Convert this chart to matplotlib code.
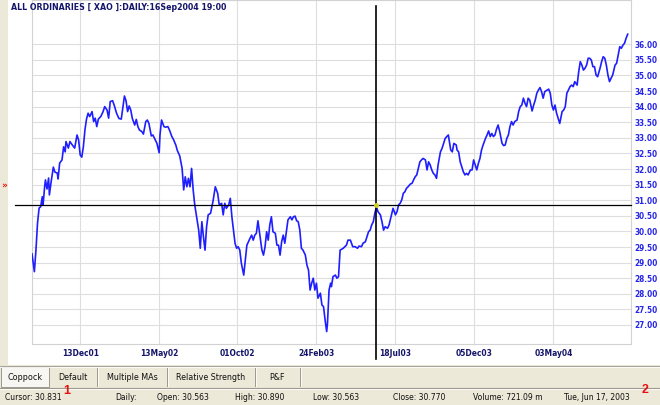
import matplotlib
matplotlib.use('Agg')
import matplotlib.pyplot as plt
from matplotlib import font_manager
from matplotlib.font_manager import FontProperties
from matplotlib.patches import Rectangle

# ---------------- data ----------------
sessions = [0,3,5,7,9,11,13,14,16,17,19,21,22,24,27,29,32,33,35,38,40,42,43,46,48,51,54,57,59,61,
            63,65,67,69,71,73,76,78,80,82,84,87,90,92,95,97,99,102,104,107,110,113,115,117,119,121,123,125,127,130,
            132,134,136,139,141,144,146,148,151,153,156,158,161,162,164,167,169,172,174,177,179,182,184,187,190,192,
            194,196,198,200,202,204,206,209,211,213,215,217,219,221,223,226,229,232,235,237,
            240,242,244,246,249,251,253,255,257,259,261,263,265,268,270,272,274,276,278,280,
            282,284,286,289,291,293,295,297,299,301,303,305,308,310,312,314,316,318,320,322,
            324,327,329,331,333,335,337,339,341,343,346,348,350,352,354,356,358,360,362,365,
            367,369,371,373,374,376,378,379,381,384,386,388,390,
            394,398,400,403,406,409,412,414,417,419,422,424,426,428,430,432,434,436,438,441,
            443,445,447,450,452,455,457,460,462,464,466,468,470,472,474,476,479,481,483,485,
            487,489,491,493,495,498,500,502,504,506,508,510,512,514,517,519,521,523,525,527,
            528,530,532,534,537,538,540,542,544,546,548,550,552,555,557,559,561,563,565,567,
            569,571,574,576,578,580,582,584,586,588,590,592,595,597,599,601,603,605,607,609,
            611,614,616,618,620,622,624,626,628,630,633,635,637,639,641,643,645,647,649,652,
            654,656,658,660,662,664,666,668,671,673,675,677,679,681,683,685,687,690,692,694,
            696,698,700,702,704,706,708,710,712,714,716,719,721,723,725,727,729,731,733,735,
            738,740,742,744,746,748,750,752,754]
closes = [29.28,28.71,29.40,30.27,30.75,30.79,31.11,30.85,31.43,31.65,
          31.36,31.71,31.17,31.55,32.06,31.90,31.87,31.68,32.19,32.29,
          32.71,32.55,32.88,32.67,32.88,32.77,32.67,33.09,32.93,32.45,
          32.38,32.71,33.25,33.60,33.79,33.68,33.84,33.52,33.63,33.36,
          33.60,33.68,33.84,34.00,33.89,33.63,34.16,34.19,34.05,33.79,
          33.62,33.60,33.96,34.34,34.19,33.84,34.02,33.89,33.62,33.41,
          33.59,33.36,33.25,33.20,33.12,33.52,33.57,33.46,33.06,33.09,
          32.93,32.83,32.52,33.09,33.57,33.36,33.34,33.36,33.25,33.04,
          32.95,32.77,32.59,32.42,32.02,31.33,
          31.75,31.43,31.70,31.43,32.02,31.33,30.85,30.37,30.04,29.46,
          30.31,29.83,29.40,30.15,30.53,30.58,30.95,31.43,31.22,30.85,
          30.90,30.53,30.90,30.74,30.85,31.06,30.47,30.04,29.62,29.46,
          29.51,29.40,28.98,28.60,29.08,29.56,29.67,29.78,29.88,29.72,
          29.88,29.94,30.34,29.78,29.40,29.24,29.51,29.99,29.72,30.21,
          30.47,29.99,29.94,29.56,29.56,29.24,29.67,29.88,29.62,29.99,
          30.37,30.47,30.37,30.47,30.49,30.34,30.31,30.04,29.46,29.40,
          29.24,28.92,28.76,28.12,28.34,28.50,28.12,28.34,27.86,28.02,
          27.64,27.59,27.16,26.79,27.05,28.12,28.34,28.23,28.55,28.60,
          28.50,28.55,29.40,
          29.46,29.56,29.72,29.72,29.51,29.51,29.46,29.53,29.51,29.62,
          29.67,29.83,29.99,30.04,30.21,30.31,30.58,30.79,30.63,30.53,
          30.31,30.04,30.15,30.10,30.21,30.53,30.74,30.53,30.63,30.85,
          30.90,31.01,31.22,31.27,31.38,31.43,31.52,31.54,31.65,31.75,
          31.81,32.02,32.23,32.29,32.34,32.29,31.97,32.23,32.13,31.97,
          31.86,31.81,31.70,32.13,32.55,32.66,32.82,32.98,33.04,33.09,
          32.93,32.61,32.55,32.82,32.77,32.61,32.55,32.23,32.07,31.91,
          31.81,31.86,31.81,31.97,31.97,32.29,32.13,31.97,32.18,32.34,
          32.61,32.77,32.98,33.09,33.22,33.04,33.14,33.04,33.09,33.28,
          33.41,33.20,32.82,32.75,32.77,32.98,33.09,33.36,33.52,33.41,
          33.52,33.57,33.84,34.00,34.05,34.27,34.11,34.00,34.27,34.21,
          33.86,34.05,34.21,34.43,34.53,34.61,34.48,34.27,34.48,34.53,
          34.56,34.43,34.05,33.89,34.05,33.79,33.62,33.46,33.84,33.89,
          34.00,34.43,34.53,34.64,34.69,34.64,34.80,34.69,35.12,35.44,
          35.33,35.17,35.23,35.33,35.55,35.55,35.49,35.28,35.28,35.01,
          34.96,35.23,35.44,35.60,35.55,35.33,35.01,34.80,34.91,35.01,
          35.33,35.39,35.65,35.92,35.87,35.97,36.03,36.19,36.32]

tick_sessions = [61, 161, 260, 360, 460, 560, 660]
tick_labels = ['13Dec01', '13May02', '01Oct02', '24Feb03', '18Jul03', '05Dec03', '03May04']
price_ticks = [27.0, 27.5, 28.0, 28.5, 29.0, 29.5, 30.0, 30.5, 31.0, 31.5, 32.0,
               32.5, 33.0, 33.5, 34.0, 34.5, 35.0, 35.5, 36.0]

cursor_session = 436
cursor_value = 30.831

title = 'ALL ORDINARIES [ XAO ]:DAILY:16Sep2004 19:00'
tabs = ['Coppock', 'Default', 'Multiple MAs', 'Relative Strength', 'P&F']
status_items = ['Cursor: 30.831', 'Daily:', 'Open: 30.563', 'High: 30.890',
                'Low: 30.563', 'Close: 30.770', 'Volume: 721.09 m', 'Tue, Jun 17, 2003']

# ---------------- fonts ----------------
def find_narrow(bold):
    cands = []
    for f in font_manager.fontManager.ttflist:
        key = (f.name + ' ' + f.fname).lower()
        if ('narrow' in key or 'condensed' in key or f.stretch in ('condensed', 'semi-condensed', 550, 600, 700)) \
                and 'sans' in key and 'mono' not in key and 'serif' not in f.name.lower():
            isbold = (f.weight in ('bold', 700, 'semibold', 600)) or ('bold' in f.fname.lower())
            if isbold == bold and 'oblique' not in f.fname.lower() and 'italic' not in f.fname.lower():
                cands.append(f.fname)
    cands.sort()
    return cands[0] if cands else None

nr = find_narrow(False)
nb = find_narrow(True)
FP_REG = FontProperties(fname=nr) if nr else FontProperties(family='Liberation Sans')
FP_BOLD = FontProperties(fname=nb) if nb else FontProperties(family='Liberation Sans', weight='bold')
GROW = 1.0 if (nr and nb) else 1.1

W, H = 660, 405
fig = plt.figure(figsize=(W / 100, H / 100), dpi=100)
fig.patch.set_facecolor('#ECE9D8')
renderer = fig.canvas.get_renderer()


def size_for(s, width, fp):
    p = fp.copy()
    p.set_size(10)
    t = fig.text(0, 0, s, fontproperties=p)
    w = t.get_window_extent(renderer).width
    t.remove()
    return 10.0 * width * GROW / w


def fp_sized(fp, size):
    p = fp.copy()
    p.set_size(size)
    return p


# ---------------- UI background (pixel coordinates) ----------------
ui = fig.add_axes([0, 0, 1, 1])
ui.set_xlim(0, W)
ui.set_ylim(H, 0)
ui.axis('off')
ui.add_patch(Rectangle((8, 0), W - 8, 365, facecolor='white', edgecolor='none'))
ui.plot([0, W], [365.5, 365.5], color='#A7A49A', lw=0.8)
ui.plot([0, W], [366.5, 366.5], color='#FFFFFF', lw=0.6)
# tabs
tab_edges = [1, 49, 97, 167, 255, 300]
ui.add_patch(Rectangle((1, 367), 48, 20, facecolor='#F7F6F2', edgecolor='#9C9A8E', lw=0.7))
for xe in tab_edges[2:]:
    ui.plot([xe, xe], [368, 386], color='#9C9A8E', lw=0.7)
    ui.plot([xe + 1, xe + 1], [368, 386], color='#FFFFFF', lw=0.6)
tab_fp = fp_sized(FP_REG, size_for('Relative Strength', 70, FP_REG))
for i, name in enumerate(tabs):
    xc = (tab_edges[i] + tab_edges[i + 1]) / 2
    ui.text(xc, 377.5, name, ha='center', va='center', fontproperties=tab_fp, color='#111111')
# status bar
ui.plot([0, W], [388, 388], color='#9C9A8E', lw=0.8)
ui.plot([0, W], [389, 389], color='#FFFFFF', lw=0.6)
st_fp = fp_sized(FP_REG, size_for('Cursor: 30.831', 57, FP_REG))
status_x = [5, 115, 157, 235, 313, 393, 473, 564]
for xs, s in zip(status_x, status_items):
    ui.text(xs, 397.5, s, ha='left', va='center', fontproperties=st_fp, color='#111111')
ui.text(67, 391, '1', ha='center', va='center', fontsize=9, weight='bold',
        family='Liberation Sans', color='#E81010')
ui.text(645, 390, '2', ha='center', va='center', fontsize=9, weight='bold',
        family='Liberation Sans', color='#E81010')
ui.text(4.5, 186, '»', ha='center', va='center', fontsize=6.5, weight='bold',
        family='DejaVu Sans', color='#E81010')

# ---------------- chart ----------------
ax = fig.add_axes([32 / W, (H - 344) / H, 599 / W, 344 / H])
ax.set_facecolor('white')
ax.set_xlim(0, 758.2)
ax.set_ylim(26.391, 37.417)
ax.plot(sessions, closes, color='#1E1EFF', lw=1.2, solid_joinstyle='round', zorder=3)

ax.set_xticks(tick_sessions)
ax.set_xticklabels(tick_labels)
ax.set_yticks(price_ticks)
ax.set_yticklabels([f'{v:.2f}' for v in price_ticks])
ax.yaxis.tick_right()
ax.set_axisbelow(True)
ax.grid(True, color='#DEDEDE', lw=0.8)
xt_fp = fp_sized(FP_BOLD, size_for('13Dec01', 37, FP_BOLD))
yt_fp = fp_sized(FP_BOLD, size_for('36.00', 23, FP_BOLD))
ax.tick_params(axis='x', length=0, pad=3.5, labelcolor='#14146A')
ax.tick_params(axis='y', length=0, pad=2.2, labelcolor='#2424E8')
for lab in ax.get_xticklabels():
    lab.set_fontproperties(xt_fp)
for lab in ax.get_yticklabels():
    lab.set_fontproperties(yt_fp)
for sp in ax.spines.values():
    sp.set_color('#D2D2D2')
    sp.set_linewidth(0.8)

# cursor cross-hair
ax.plot([cursor_session, cursor_session], [0.983, -0.044], color='black', lw=1.2,
        transform=ax.get_xaxis_transform(), clip_on=False, zorder=4)
ax.plot([-0.0284, 1.0], [cursor_value, cursor_value], color='black', lw=0.9,
        transform=ax.get_yaxis_transform(), clip_on=False, zorder=4)
ax.plot([cursor_session], [cursor_value], marker='o', ms=2.5, color='#CFCF20', zorder=5)

# title on top of everything
title_fp = fp_sized(FP_BOLD, size_for(title, 216, FP_BOLD))
fig.text(11 / W, 1 - 7.5 / H, title, ha='left', va='center', fontproperties=title_fp,
         color='#14146A', zorder=10)

fig.savefig('out.png', dpi=100, facecolor=fig.get_facecolor())
